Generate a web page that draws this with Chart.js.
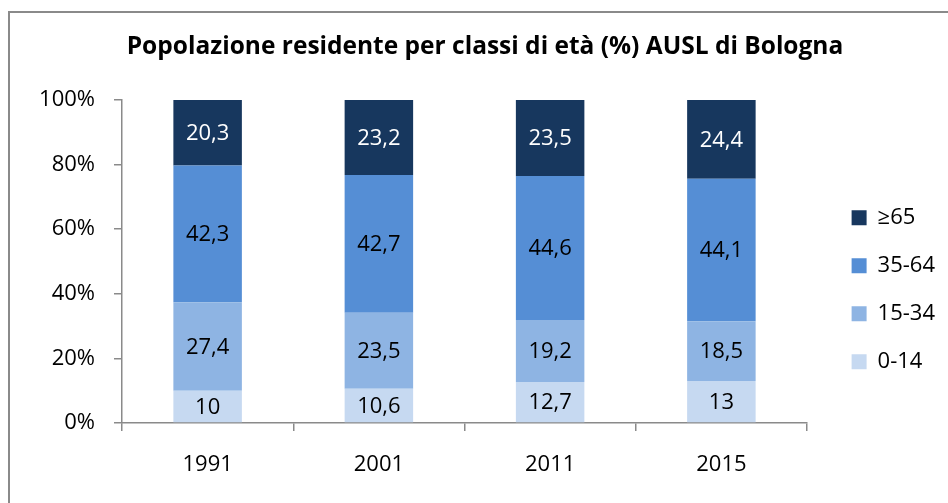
<!DOCTYPE html>
<html>
<head>
<meta charset="utf-8">
<script src="https://cdn.jsdelivr.net/npm/chart.js@4/dist/chart.umd.min.js"></script>
<style>
html,body{margin:0;padding:0;background:#fff;}
#wrap{width:948px;height:503px;position:relative;}
</style>
</head>
<body>
<div id="wrap"><canvas id="c"></canvas></div>
<script>
const years = ['1991', '2001', '2011', '2015'];
const seriesNames = ['0-14', '15-34', '35-64', '\u226565'];
const age0_14 = [10, 10.6, 12.7, 13];
const age15_34 = [27.4, 23.5, 19.2, 18.5];
const age35_64 = [42.3, 42.7, 44.6, 44.1];
const age65plus = [20.3, 23.2, 23.5, 24.4];
const yTicks = [0, 20, 40, 60, 80, 100];
const titleText = 'Popolazione residente per classi di et\u00e0 (%) AUSL di Bologna';

const colors = ['#C6D9F1', '#8EB4E3', '#558ED5', '#17375E'];
const labelColors = ['#000000', '#000000', '#000000', '#FFFFFF'];
const FONT = '"Open Sans", Lato, sans-serif';

const frame = {
  id: 'frame',
  beforeDraw(chart) {
    const ctx = chart.ctx;
    ctx.save();
    ctx.strokeStyle = '#8a8a8a';
    ctx.lineWidth = 2;
    ctx.strokeRect(9, 12, 2000, 2000);
    ctx.restore();
  }
};

const valueLabels = {
  id: 'valueLabels',
  afterDatasetsDraw(chart) {
    const ctx = chart.ctx;
    ctx.save();
    ctx.font = '22px ' + FONT;
    ctx.textAlign = 'center';
    ctx.textBaseline = 'middle';
    chart.data.datasets.forEach((ds, i) => {
      const meta = chart.getDatasetMeta(i);
      meta.data.forEach((el, j) => {
        const p = el.getCenterPoint();
        ctx.fillStyle = labelColors[i];
        ctx.fillText(String(ds.data[j]).replace('.', ','), p.x, p.y + 1);
      });
    });
    ctx.restore();
  }
};

const datasets = [age0_14, age15_34, age35_64, age65plus].map((d, i) => ({
  label: seriesNames[i],
  data: d,
  backgroundColor: colors[i],
  borderWidth: 0,
  categoryPercentage: 1.0,
  barPercentage: 0.4
}));

new Chart(document.getElementById('c'), {
  type: 'bar',
  data: { labels: years, datasets },
  options: {
    responsive: true,
    maintainAspectRatio: false,
    animation: false,
    layout: { padding: { left: 25, right: 3, top: 0, bottom: 3.6 } },
    plugins: {
      tooltip: { enabled: false },
      title: {
        display: true,
        text: titleText,
        color: '#000',
        font: { family: FONT, size: 24.5, weight: 'bold' },
        padding: { top: 32.5, bottom: 38.1 }
      },
      legend: {
        display: true,
        position: 'right',
        align: 'center',
        reverse: true,
        title: { display: true, text: ' ', font: { size: 20 }, padding: { top: 28, bottom: 28 } },
        labels: {
          boxWidth: 15,
          boxHeight: 15,
          padding: 26,
          color: '#000',
          font: { family: FONT, size: 22 }
        }
      }
    },
    scales: {
      x: {
        stacked: true,
        grid: { display: true, drawOnChartArea: false, drawTicks: true, tickLength: 8, color: '#8a8a8a', lineWidth: 1.5 },
        border: { display: true, color: '#8a8a8a', width: 1.5 },
        ticks: { color: '#000', padding: 21, font: { family: FONT, size: 22 } }
      },
      y: {
        stacked: true,
        min: 0,
        max: 100,
        afterBuildTicks(s) { s.ticks = yTicks.map(v => ({ value: v })); },
        afterFit(s) { s.width = 97; },
        grid: { display: true, drawOnChartArea: false, drawTicks: true, tickLength: 8, color: '#8a8a8a', lineWidth: 1.5 },
        border: { display: true, color: '#8a8a8a', width: 1.5 },
        ticks: { color: '#000', padding: 19, font: { family: FONT, size: 22 }, callback: v => v + '%' }
      },
      y2: {
        position: 'right',
        display: true,
        grid: { display: false, drawTicks: false },
        border: { display: false },
        ticks: { display: false },
        afterFit(s) { s.width = 18.6; }
      }
    }
  },
  plugins: [frame, valueLabels]
});
</script>
</body>
</html>
